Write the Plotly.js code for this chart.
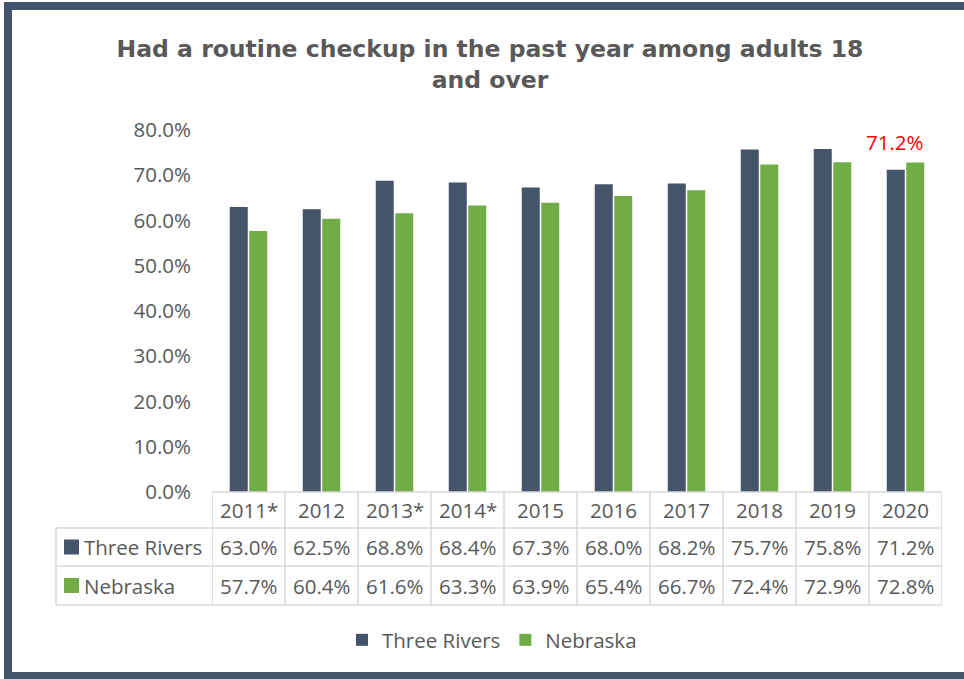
<!DOCTYPE html>
<html>
<head>
<meta charset="utf-8">
<script src="https://cdn.plot.ly/plotly-3.0.1.min.js"></script>
<style>
html,body{margin:0;padding:0;background:#fff;}
#chart{width:964px;height:679px;}
</style>
</head>
<body>
<div id="chart"></div>
<script>
const categories = ["2011*","2012","2013*","2014*","2015","2016","2017","2018","2019","2020"];
const threeRivers = [63.0,62.5,68.8,68.4,67.3,68.0,68.2,75.7,75.8,71.2];
const nebraska = [57.7,60.4,61.6,63.3,63.9,65.4,66.7,72.4,72.9,72.8];
const seriesNames = ["Three Rivers","Nebraska"];
const seriesColors = ["#44546A","#70AD47"];
const titleText = "Had a routine checkup in the past year among adults 18<br>and over";
const highlightLabel = "71.2%";

const W=964,H=679,L=212,R=942,T=130,B=492;
const px2x = X => (X-L)/(R-L);
const px2y = Y => (B-Y)/(B-T);
const txtColor = "#595959";
const gridC = "#D9D9D9";
const FONT = "Open Sans, Noto Sans, sans-serif";
const FS = 20.5;

const traces = [
  {type:"bar", name:seriesNames[0], x:categories, y:threeRivers, marker:{color:seriesColors[0]}, hoverinfo:"x+y"},
  {type:"bar", name:seriesNames[1], x:categories, y:nebraska, marker:{color:seriesColors[1]}, hoverinfo:"x+y"}
];

const shapes = [];
const annotations = [];
// frame
shapes.push({type:"rect", xref:"paper", yref:"paper", x0:px2x(8), x1:px2x(990), y0:px2y(676), y1:px2y(6), line:{color:"#44546A", width:8}, layer:"below"});
// table horizontal lines
shapes.push({type:"line", xref:"paper", yref:"paper", x0:0, x1:1, y0:px2y(492), y1:px2y(492), line:{color:gridC,width:1.5}});
[528,566,605].forEach(Y=>shapes.push({type:"line", xref:"paper", yref:"paper", x0:px2x(56), x1:1, y0:px2y(Y), y1:px2y(Y), line:{color:gridC,width:1.5}}));
// vertical lines
for(let k=0;k<=categories.length;k++){
  shapes.push({type:"line", xref:"x", yref:"paper", x0:k-0.5, x1:k-0.5, y0:px2y(492), y1:px2y(605), line:{color:gridC,width:1.5}});
}
shapes.push({type:"line", xref:"paper", yref:"paper", x0:px2x(56), x1:px2x(56), y0:px2y(528), y1:px2y(605), line:{color:gridC,width:1.5}});

const rowY = [547, 585.5];
const rowData = [threeRivers, nebraska];
const cellFont = {family:FONT,size:FS,color:txtColor};
categories.forEach((c,i)=>{
  annotations.push({xref:"x", yref:"paper", x:i, y:px2y(510), xanchor:"center", yanchor:"middle", text:c, showarrow:false, font:cellFont});
  rowData.forEach((arr,r)=>{
    annotations.push({xref:"x", yref:"paper", x:i, y:px2y(rowY[r]), xanchor:"center", yanchor:"middle", text:arr[i].toFixed(1)+"%", showarrow:false, font:cellFont});
  });
});
seriesNames.forEach((n,r)=>{
  shapes.push({type:"rect", xref:"paper", yref:"paper", x0:px2x(64), x1:px2x(79), y0:px2y(rowY[r]-7.5), y1:px2y(rowY[r]+7.5), fillcolor:seriesColors[r], line:{width:0}});
  annotations.push({xref:"paper", yref:"paper", x:px2x(82), y:px2y(rowY[r]), xanchor:"left", yanchor:"middle", text:n, showarrow:false, font:cellFont});
});
// highlight label
annotations.push({xref:"x", yref:"y", x:9, y:threeRivers[9], xshift:-11, yshift:12, xanchor:"center", yanchor:"bottom", text:highlightLabel, showarrow:false, font:{family:FONT,size:FS,color:"#FF0000"}});

const layout = {
  width:W, height:H,
  margin:{l:L, r:W-R, t:T, b:H-B, pad:0},
  paper_bgcolor:"#fff", plot_bgcolor:"#fff",
  font:{family:FONT, size:FS, color:txtColor},
  title:{text:titleText, x:490/W, xanchor:"center", y:1-57/H, yanchor:"middle", xref:"container", yref:"container",
         font:{family:"DejaVu Sans, sans-serif", size:23.5, color:txtColor, weight:"bold"}},
  barmode:"group", bargap:0.466, bargroupgap:0.077,
  xaxis:{type:"category", range:[-0.5,9.5], showticklabels:false, showline:false, showgrid:false, zeroline:false, ticks:"", fixedrange:true},
  yaxis:{range:[0,80], dtick:10, tickformat:".1f", ticksuffix:"%", showgrid:false, zeroline:false, showline:false, ticks:"", ticklabelstandoff:20, tickfont:{family:FONT,size:FS,color:txtColor}, fixedrange:true},
  showlegend:true,
  legend:{orientation:"h", x:px2x(492), xanchor:"center", y:px2y(640), yanchor:"middle", font:{family:FONT,size:FS,color:txtColor}, itemwidth:30, traceorder:"normal"},
  shapes:shapes, annotations:annotations
};
Plotly.newPlot("chart", traces, layout, {displayModeBar:false, staticPlot:true});
</script>
</body>
</html>
